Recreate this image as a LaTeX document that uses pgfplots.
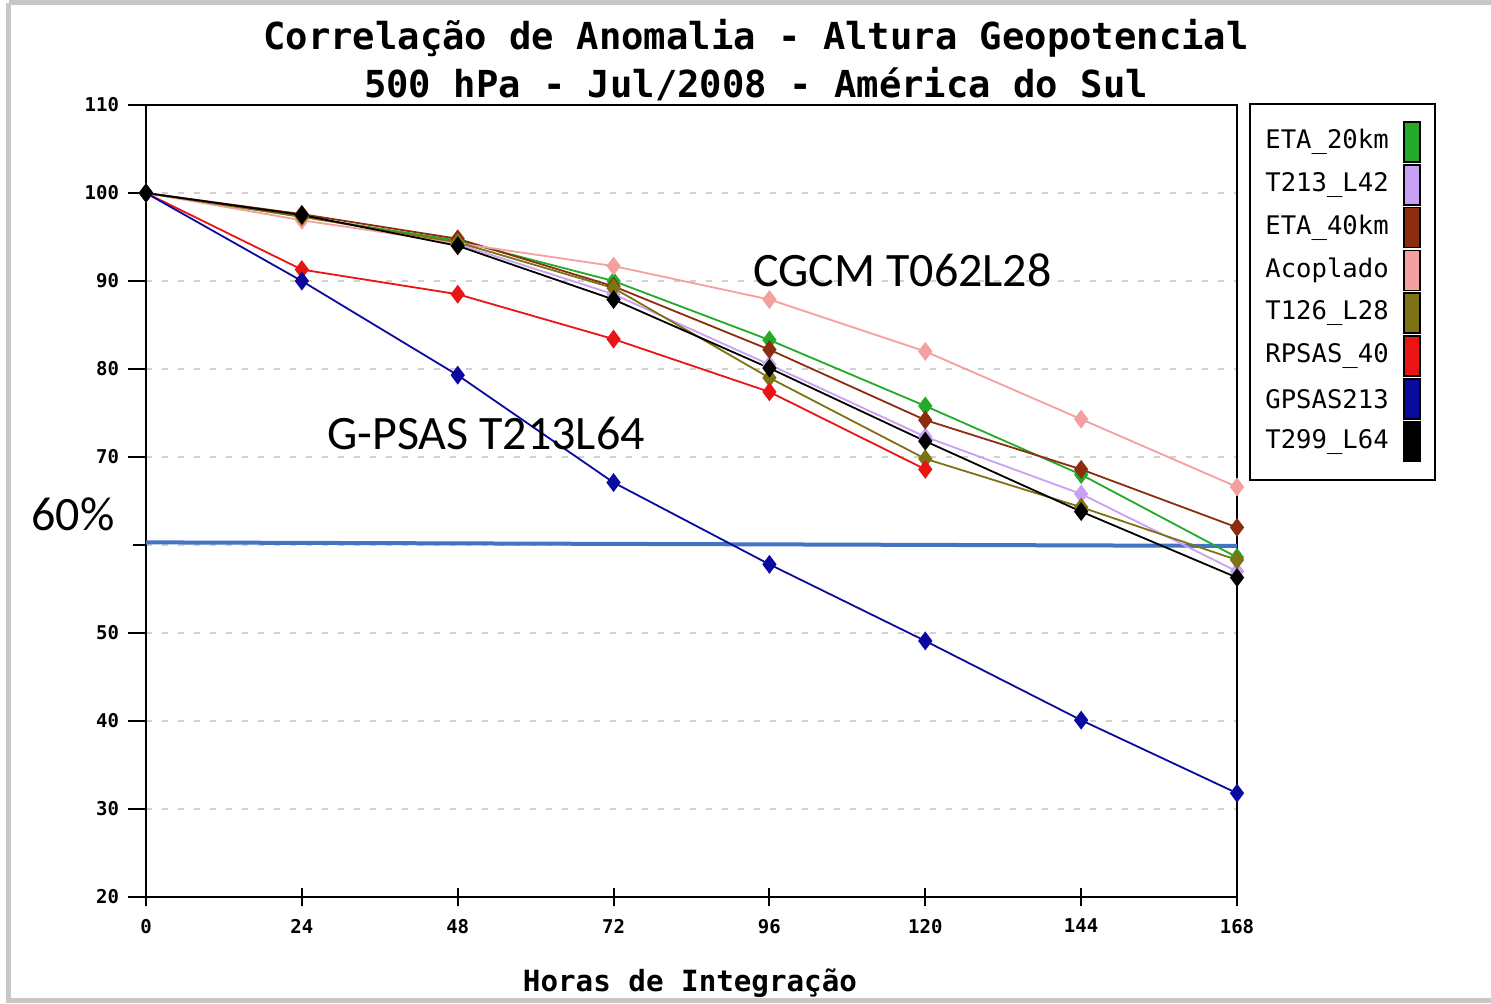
\documentclass[border=0pt]{standalone}
\usepackage{fontspec}
\usepackage{pgfplots}
\pgfplotsset{compat=1.18}
\setmainfont{DejaVu Sans Mono}
\newfontfamily\annfont{Carlito}

\definecolor{cEtaTwenty}{RGB}{34,170,40}
\definecolor{cLav}{RGB}{200,160,245}
\definecolor{cEtaForty}{RGB}{140,45,15}
\definecolor{cAcop}{RGB}{245,160,160}
\definecolor{cOlive}{RGB}{125,115,20}
\definecolor{cRed}{RGB}{235,20,20}
\definecolor{cNavy}{RGB}{10,10,160}
\definecolor{cRef}{RGB}{68,114,196}

\begin{document}
\begin{tikzpicture}
\useasboundingbox (0,0) rectangle (745.5bp,-502bp);
\begin{axis}[
  scale only axis, width=545.5bp, height=396bp,
  at={(73bp,-448.5bp)}, anchor=south west,
  xmin=0, xmax=168, ymin=20, ymax=110,
  xtick={0,24,...,168}, ytick={20,30,...,110},
  % the 60 label is replaced by the "60%" note beside the axis
  yticklabels={20,30,40,50,,70,80,90,100,110},
  axis line style={line width=1.2bp},
  xtick pos=bottom, ytick pos=left,
  x tick style={line width=1bp, black}, y tick style={line width=1bp, black},
  xtick align=center, ytick align=outside,
  major tick length=9bp,
  ymajorgrids, grid style={dash pattern=on 3bp off 5bp, line width=1bp, black!18},
  /pgf/number format/assume math mode=true,
  ticklabel style={font=\fontsize{9.5bp}{11bp}\selectfont\bfseries},
  yticklabel style={xshift=-1bp},
  xticklabel style={yshift=-3bp},
  every axis plot/.append style={line width=0.9bp, mark=diamond*, mark size=4bp},
  clip=false,
]
% reference level drawn under the model curves
\addplot[cRef, line width=2bp, no marks] coordinates {(0,60.3) (168,59.9)};

\addplot[cEtaTwenty, mark options={fill=cEtaTwenty}] coordinates {
 (0,100) (24,97.3) (48,94.6) (72,90.0) (96,83.3) (120,75.8) (144,68.0) (168,58.6)};
\addplot[cLav, mark options={fill=cLav}] coordinates {
 (0,100) (24,97.4) (48,94.2) (72,88.5) (96,80.5) (120,72.3) (144,65.8) (168,57.0)};
\addplot[cEtaForty, mark options={fill=cEtaForty}] coordinates {
 (0,100) (24,97.6) (48,94.8) (72,89.4) (96,82.2) (120,74.2) (144,68.6) (168,62.0)};
\addplot[cAcop, mark options={fill=cAcop}] coordinates {
 (0,100) (24,96.9) (48,94.3) (72,91.7) (96,87.9) (120,82.0) (144,74.3) (168,66.6)};
\addplot[cOlive, mark options={fill=cOlive}] coordinates {
 (0,100) (24,97.3) (48,94.4) (72,89.2) (96,79.0) (120,69.8) (144,64.3) (168,58.3)};
\addplot[cRed, mark options={fill=cRed}] coordinates {
 (0,100) (24,91.3) (48,88.5) (72,83.4) (96,77.4) (120,68.6)};
\addplot[cNavy, mark options={fill=cNavy}] coordinates {
 (0,100) (24,90.0) (48,79.3) (72,67.1) (96,57.8) (120,49.1) (144,40.1) (168,31.8)};
\addplot[black, mark options={fill=black}] coordinates {
 (0,100) (24,97.5) (48,94.0) (72,87.9) (96,80.1) (120,71.8) (144,63.8) (168,56.3)};
\end{axis}

\begin{scope}[x=0.5bp, y=-0.5bp]
  % frame around the figure
  \draw[black!22, line width=2.5bp] (9,3) -- (1500,3);
  \draw[black!22, line width=2.5bp] (9,3) -- (9,1001) -- (1500,1001);

  % titles
  \node[font=\fontsize{18.6bp}{22bp}\selectfont\bfseries] at (756,38) {Correlação de Anomalia - Altura Geopotencial};
  \node[font=\fontsize{18.6bp}{22bp}\selectfont\bfseries] at (756,84) {500 hPa - Jul/2008 - América do Sul};
  \node[font=\fontsize{14.6bp}{17bp}\selectfont\bfseries] at (690,983) {Horas de Integração};

  % legend
  \draw[black, line width=1bp] (1250,104) rectangle (1435,480);
  \foreach \name/\col [count=\i from 0] in {ETA\_20km/cEtaTwenty, T213\_L42/cLav, ETA\_40km/cEtaForty,
      Acoplado/cAcop, T126\_L28/cOlive, RPSAS\_40/cRed, GPSAS213/cNavy, T299\_L64/black} {
    \pgfmathsetmacro{\yc}{142+42.8*\i}
    \node[anchor=west, inner sep=0pt, font=\fontsize{12.8bp}{15bp}\selectfont] at (1265,\yc) {\name};
    \filldraw[fill=\col, draw=black, line width=0.8bp] (1404,\yc-20) rectangle (1420,\yc+20);
  }

  % annotations
  \node[anchor=west, inner sep=0pt, font=\annfont\fontsize{24bp}{28bp}\selectfont] at (753,270) {CGCM T062L28};
  \node[anchor=west, inner sep=0pt, font=\annfont\fontsize{24bp}{28bp}\selectfont] at (327,433) {G-PSAS T213L64};
  \fill[white] (13,473) rectangle (133,550);
  \node[anchor=west, inner sep=0pt, font=\annfont\fontsize{24bp}{28bp}\selectfont] at (31,514) {60\%};
\end{scope}
\end{tikzpicture}
\end{document}
